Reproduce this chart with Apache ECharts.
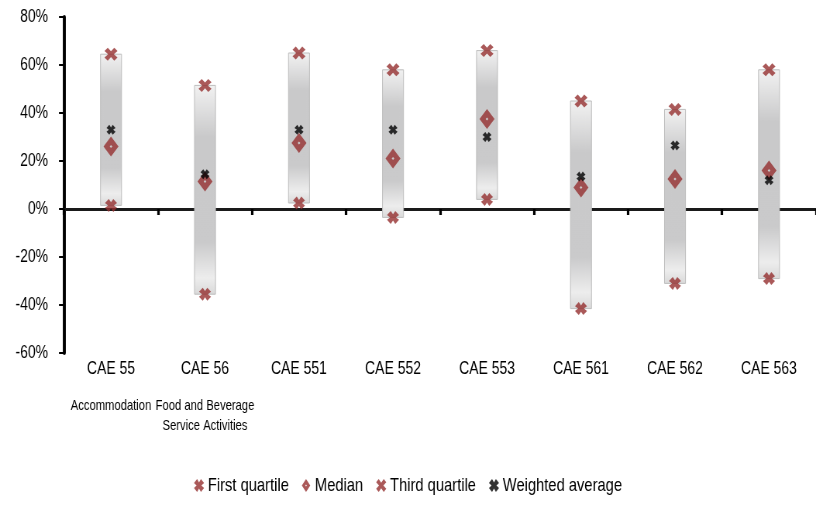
<!DOCTYPE html>
<html>
<head>
<meta charset="utf-8">
<script src="https://cdn.jsdelivr.net/npm/echarts@6/dist/echarts.min.js"></script>
<style>
  html, body { margin: 0; padding: 0; background: #fff; overflow: hidden; }
  #wrap { width: 816px; height: 506px; overflow: hidden; }
  /* The chart is laid out wide and compressed horizontally so that the
     sans-serif text takes on the proportions of a narrow face. */
  #chart { width: 1053px; height: 506px; transform: scaleX(0.77493); transform-origin: 0 0; }
</style>
</head>
<body>
<div id="wrap"><div id="chart"></div></div>
<script>
// Activity codes and their descriptions (blank where none is shown)
const categories = ['CAE 55', 'CAE 56', 'CAE 551', 'CAE 552', 'CAE 553', 'CAE 561', 'CAE 562', 'CAE 563'];
const subtitles = ['Accommodation', 'Food and Beverage\nService Activities', '', '', '', '', '', ''];

// Distribution statistics, in percent
const firstQuartile   = [1.5, -35.5, 2.5, -3.5, 4.0, -41.5, -31.0, -29.0];
const median          = [26.0, 11.5, 27.5, 21.0, 37.5, 9.0, 12.5, 16.0];
const thirdQuartile   = [64.5, 51.5, 65.0, 58.0, 66.0, 45.0, 41.5, 58.0];
const weightedAverage = [33.0, 14.5, 33.0, 33.0, 30.0, 13.5, 26.5, 12.0];

// Value axis range
const yMin = -60, yMax = 80, yStep = 20;

// Horizontal compression applied to the chart container (see CSS)
const S = 0.77493;
const hx = v => v / S;

const RED = '#952f2f';
const FONT = "'Liberation Sans', Arial, sans-serif";

// Marker shapes
const X_BOLD = 'path://M0,3.1 L3.1,0 L5,2.6 L6.9,0 L10,3.1 L7.4,5 L10,6.9 L6.9,10 L5,7.4 L3.1,10 L0,6.9 L2.6,5 Z';
const X_THIN = 'path://M0,2.5 L2.5,0 L5,2.8 L7.5,0 L10,2.5 L7.2,5 L10,7.5 L7.5,10 L5,7.2 L2.5,10 L0,7.5 L2.8,5 Z';
const DIAMOND = 'path://M5,0 L10,6 L5,12 L0,6 Z M5,5.1 L4.1,6 L5,6.9 L5.9,6 Z';

const boxData = categories.map((c, i) => [i, firstQuartile[i], thirdQuartile[i]]);

const chart = echarts.init(document.getElementById('chart'), null, { renderer: 'canvas', width: 1053, height: 506 });

chart.setOption({
  animation: false,
  backgroundColor: '#ffffff',
  textStyle: { fontFamily: FONT },
  grid: { left: hx(64), top: 17, width: hx(755), height: 336, containLabel: false },
  legend: {
    bottom: 6,
    left: 'center',
    itemWidth: hx(13),
    itemHeight: 13,
    itemGap: hx(13),
    textStyle: { fontFamily: FONT, fontSize: 19, color: '#000', padding: [0, 0, 0, -2] },
    data: ['First quartile', 'Median', 'Third quartile', 'Weighted average']
  },
  xAxis: [
    {
      type: 'category',
      data: categories,
      boundaryGap: true,
      axisLine: { onZero: true, lineStyle: { color: '#1a1a1a', width: 3 } },
      axisTick: { show: true, inside: false, length: 6, lineStyle: { color: '#000', width: hx(2.5) } },
      axisLabel: { show: false },
      splitLine: { show: false }
    },
    {
      type: 'category',
      data: categories,
      position: 'bottom',
      boundaryGap: true,
      axisLine: { show: false, onZero: false },
      axisTick: { show: false },
      splitLine: { show: false },
      axisLabel: {
        show: true,
        interval: 0,
        margin: 6,
        formatter: (value, idx) => {
          const sub = subtitles[idx];
          if (!sub) return '{main|' + value + '}';
          const subLines = sub.split('\n').map(s => '{sub|' + s + '}').join('\n');
          return '{main|' + value + '}\n{gap| }\n' + subLines;
        },
        rich: {
          main: { fontFamily: FONT, fontSize: 18, lineHeight: 20, color: '#000' },
          gap: { fontSize: 10, lineHeight: 17 },
          sub: { fontFamily: FONT, fontSize: 14.5, lineHeight: 20, color: '#000' }
        }
      }
    }
  ],
  yAxis: {
    type: 'value',
    min: yMin,
    max: yMax,
    interval: yStep,
    axisLine: { show: true, lineStyle: { color: '#000', width: hx(3) } },
    axisTick: { show: true, inside: false, length: hx(5), lineStyle: { color: '#000', width: 2 } },
    axisLabel: { formatter: '{value}%', margin: hx(16), fontFamily: FONT, fontSize: 18, color: '#000' },
    splitLine: { show: false }
  },
  series: [
    {
      name: 'Interquartile range',
      type: 'custom',
      xAxisIndex: 0,
      data: boxData,
      encode: { x: 0, y: [1, 2] },
      z: 1,
      renderItem: (params, api) => {
        const x = api.value(0);
        const lo = api.coord([x, api.value(1)]);
        const hi = api.coord([x, api.value(2)]);
        const w = hx(21);
        return {
          type: 'rect',
          shape: { x: lo[0] - w / 2, y: hi[1], width: w, height: lo[1] - hi[1] },
          style: {
            fill: new echarts.graphic.LinearGradient(0, 0, 0, 1, [
              { offset: 0, color: '#f2f2f2' },
              { offset: 0.25, color: '#c9c9ca' },
              { offset: 0.75, color: '#cacacb' },
              { offset: 0.92, color: '#ededed' },
              { offset: 1, color: '#d9d9d9' }
            ]),
            stroke: '#bdbdbd',
            lineWidth: 1
          }
        };
      }
    },
    {
      name: 'First quartile',
      type: 'scatter',
      data: firstQuartile,
      symbol: X_BOLD,
      symbolSize: [hx(12), 13],
      itemStyle: { color: RED },
      z: 3
    },
    {
      name: 'Median',
      type: 'scatter',
      data: median,
      symbol: DIAMOND,
      symbolSize: [hx(15), 20],
      itemStyle: { color: RED },
      z: 3
    },
    {
      name: 'Third quartile',
      type: 'scatter',
      data: thirdQuartile,
      symbol: X_THIN,
      symbolSize: [hx(13), 13],
      itemStyle: { color: RED },
      z: 3
    },
    {
      name: 'Weighted average',
      type: 'scatter',
      data: weightedAverage,
      symbol: X_BOLD,
      symbolSize: [hx(9), 10],
      itemStyle: { color: '#000' },
      z: 4
    }
  ]
});
</script>
</body>
</html>
